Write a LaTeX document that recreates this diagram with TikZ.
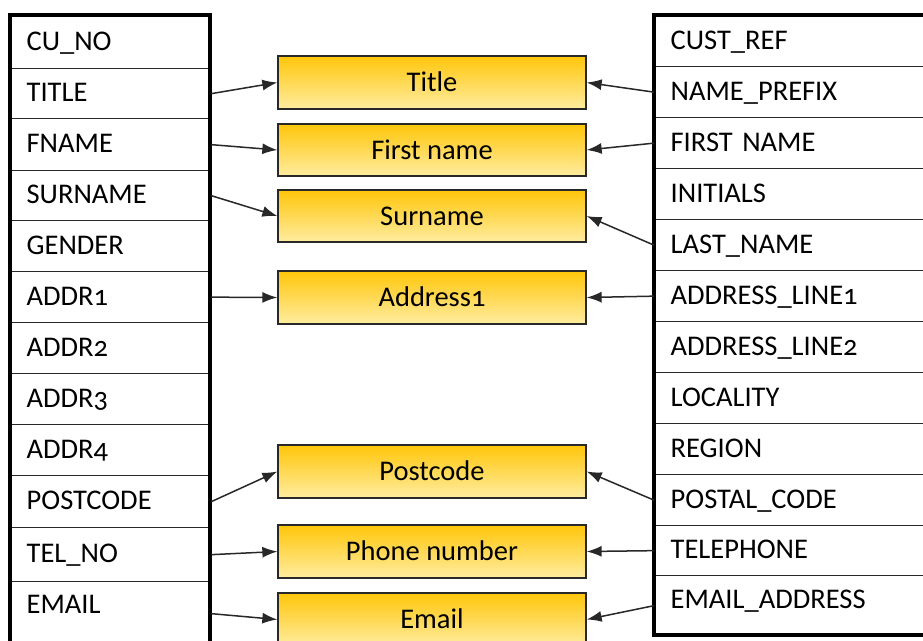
\documentclass[tikz,border=0pt]{standalone}
\usepackage{fontspec}
\setmainfont{Carlito}[Numbers=OldStyle]
\usetikzlibrary{arrows.meta}
\definecolor{boxtop}{RGB}{255,198,10}
\definecolor{boxbot}{RGB}{255,236,160}
\definecolor{linegray}{RGB}{40,40,40}
\begin{document}
\begin{tikzpicture}[x=1pt,y=-1pt,
  every node/.style={font=\fontsize{28.5}{32}\selectfont},
  rowcell/.style={draw=linegray, line width=1.3pt, anchor=north west,
    inner xsep=16pt, inner ysep=0pt, text width=#1, align=left,
    text height=19.5pt},
  mbox/.style={draw=linegray, line width=1.3pt, top color=boxtop, bottom color=boxbot,
    minimum width=308pt, inner sep=0pt, text height=19.5pt, text depth=1pt},
  outer/.style={draw=black, line width=4pt},
  arr/.style={draw=linegray, line width=1.5pt, -{Latex[length=15pt,width=11pt]}}]
\clip (0,0) rectangle (923,640);
\fill[white] (0,0) rectangle (923,640);
% left table
\foreach \n/\t/\b/\d/\txt in {l1/15/68/3/CU\_NO, l2/68/118/4/TITLE, l3/118/170/3/FNAME,
  l4/170/220/3/SURNAME, l5/220/271/3/GENDER, l6/271/322/3/ADDR1, l7/322/373/3/ADDR2,
  l8/373/424/3/ADDR3, l9/424/475/3/ADDR4, l10/475/527/3/POSTCODE, l11/527/581/4/TEL\_NO,
  l12/581/645/19/EMAIL}{
  \node[rowcell=168pt, minimum width=200pt, minimum height={(\b-\t)*1pt}, text depth=\d pt] (\n) at (10,\t) {\txt};
}
\draw[outer] (10,15) rectangle (210,645);
% right table
\foreach \n/\t/\b/\d/\txt in {r1/15/66/3/CUST\_REF, r2/66/117/3/NAME\_PREFIX, r3/117/168/3/FIRST NAME,
  r4/168/219/3/INITIALS, r5/219/270/3/LAST\_NAME, r6/270/321/3/ADDRESS\_LINE1,
  r7/321/372/3/ADDRESS\_LINE2, r8/372/423/3/LOCALITY, r9/423/474/3/REGION,
  r10/474/525/3/POSTAL\_CODE, r11/525/575/3/TELEPHONE, r12/575/635/13/EMAIL\_ADDRESS}{
  \node[rowcell=254pt, minimum width=286pt, minimum height={(\b-\t)*1pt}, text depth=\d pt] (\n) at (654,\t) {\txt};
}
\draw[outer] (654,15) rectangle (950,635);
% middle boxes
\node[mbox, minimum height=53pt] (title) at (432,82.5) {Title};
\node[mbox, minimum height=52pt] (first) at (432,150) {First name};
\node[mbox, minimum height=52pt] (sur) at (432,216) {Surname};
\node[mbox, minimum height=53pt] (addr) at (432,297.5) {Address1};
\node[mbox, minimum height=53pt] (post) at (432,471.5) {Postcode};
\node[mbox, minimum height=53pt] (phone) at (432,551.5) {Phone number};
\node[mbox, minimum height=53pt] (email) at (432,619.5) {Email};
% connectors from left
\draw[arr] (l2.east) -- (title.west);
\draw[arr] (l3.east) -- (first.west);
\draw[arr] (l4.east) -- (sur.west);
\draw[arr] (l6.east) -- (addr.west);
\draw[arr] (l10.east) -- (post.west);
\draw[arr] (l11.east) -- (phone.west);
\draw[arr] (l12.east) -- (email.west);
% connectors from right
\draw[arr] (r2.west) -- (title.east);
\draw[arr] (r3.west) -- (first.east);
\draw[arr] (r5.west) -- (sur.east);
\draw[arr] (r6.west) -- (addr.east);
\draw[arr] (r10.west) -- (post.east);
\draw[arr] (r11.west) -- (phone.east);
\draw[arr] (r12.west) -- (email.east);
\end{tikzpicture}
\end{document}
